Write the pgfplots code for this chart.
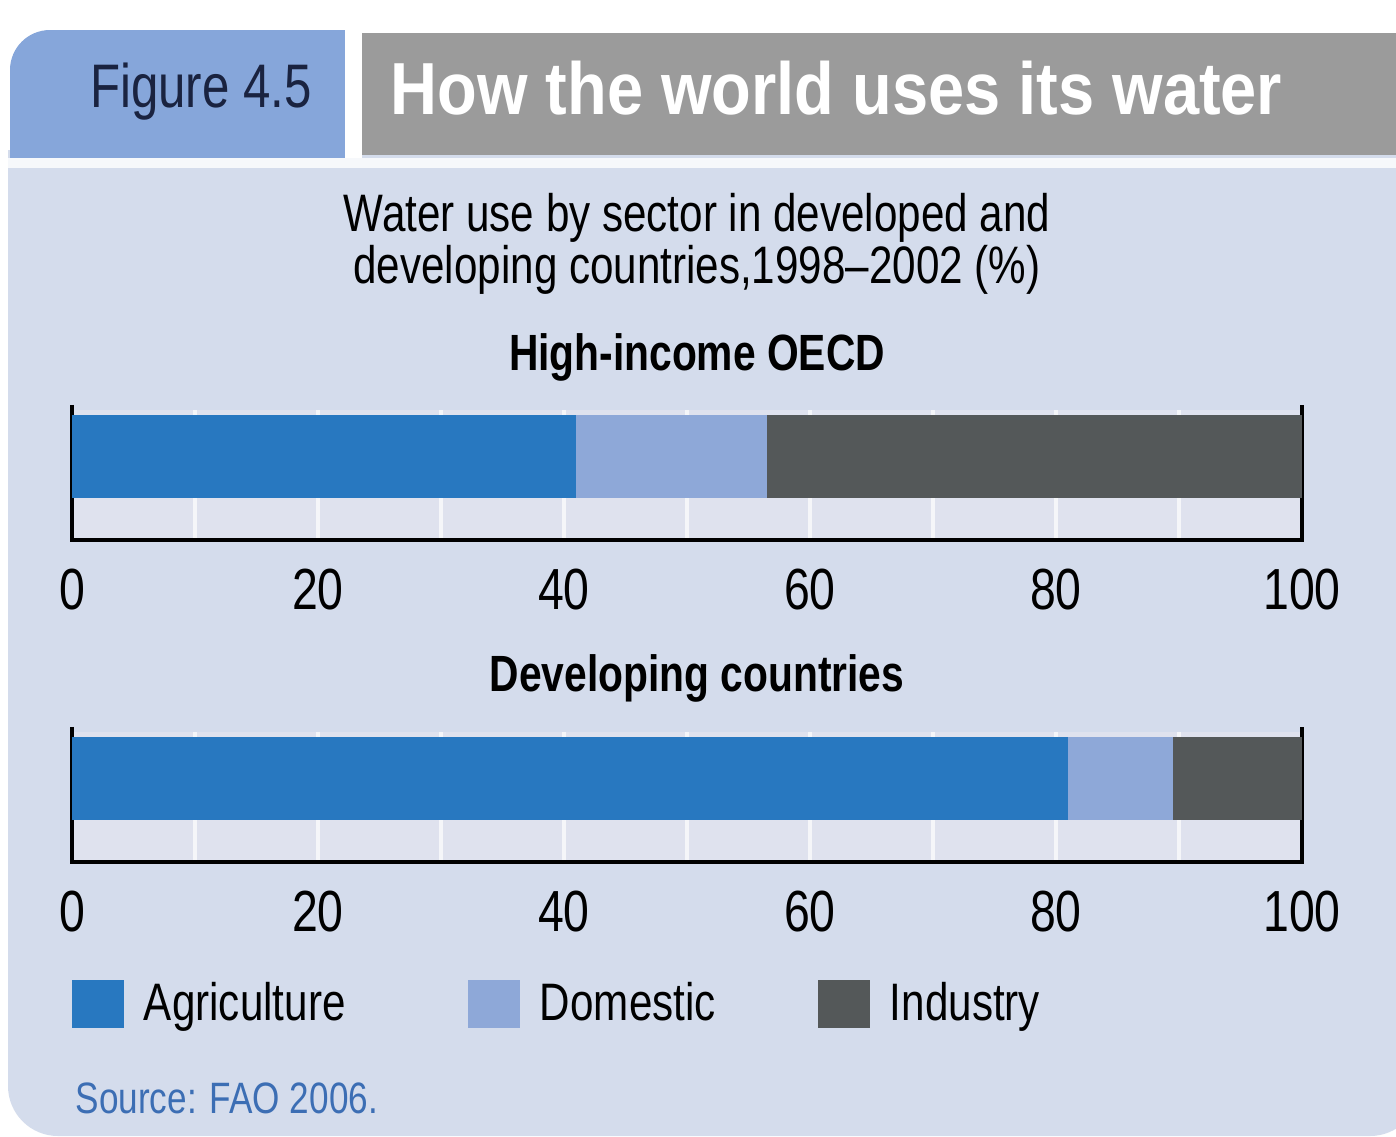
\documentclass[border=0pt]{standalone}
\usepackage{fontspec}
\setmainfont{Liberation Sans}[FakeStretch=0.8]
\newfontfamily\titlefont{Liberation Sans}[FakeStretch=0.88]
\usepackage{pgfplots}
\pgfplotsset{compat=1.18}
\definecolor{bg}{HTML}{D4DCEC}
\definecolor{agri}{HTML}{2878C0}
\definecolor{dom}{HTML}{8EA8D8}
\definecolor{ind}{HTML}{545859}
\definecolor{tabblue}{HTML}{86A6DA}
\definecolor{tabgray}{HTML}{9B9B9B}
\definecolor{navy}{HTML}{1A2340}
\definecolor{src}{HTML}{3C6EB4}
\definecolor{plotbg}{HTML}{DFE2EE}
\pgfplotsset{
  mybar/.style={
    xbar stacked, scale only axis, width=123mm, height=13mm,
    xmin=0, xmax=100, ymin=0, ymax=130,
    bar width=8.3mm, ytick=\empty, xtick={0,20,...,100},
    minor x tick num=1,
    major tick length=0, minor tick length=0,
    axis line style={draw=none},
    xmajorgrids, xminorgrids,
    major grid style={white, line width=1.2pt, opacity=0.7},
    minor grid style={white, line width=1.2pt, opacity=0.7},
    /pgf/number format/assume math mode=true,
    xticklabel style={font=\fontsize{16.5}{18}\selectfont, text=black, yshift=-1.7mm},
    axis background/.style={fill=plotbg},
    clip=false,
  }
}
\begin{document}
\begin{tikzpicture}
\begin{scope}[x=0.1mm,y=-0.1mm]
  \path[use as bounding box] (0,0) rectangle (1396,1136);
  \fill[white] (0,0) rectangle (1396,1136);
  % panel
  \fill[bg, rounded corners=5mm] (8,150) rectangle (1420,1136);
  \fill[bg] (8,150) rectangle (1396,200);
  % tabs
  \fill[tabblue, rounded corners=4mm] (10,30) -- (345,30) -- (345,160) -- (10,160) -- cycle;
  \fill[tabblue] (200,30) rectangle (345,160);
  \fill[tabblue] (10,100) rectangle (345,160);
  \fill[white] (345,28) rectangle (362,165);
  \fill[tabgray] (362,33) rectangle (1396,155);
  \fill[white!80!bg] (8,158) rectangle (1396,168);
  \node[text=navy, font=\fontsize{17.5}{20}\selectfont] at (201,92) {Figure 4.5};
  \node[anchor=west, inner sep=0pt, text=white, font=\titlefont\bfseries\fontsize{21}{22}\selectfont] at (390,88) {How the world uses its water};
  % subtitle
  \node[align=center, font=\fontsize{15}{13.8}\selectfont] at (697,244)
    {Water use by sector in developed and\\developing countries,1998--2002 (\%)};
  \node[font=\bfseries\fontsize{14.5}{16}\selectfont] at (697,357) {High-income OECD};
  \node[font=\bfseries\fontsize{14.5}{16}\selectfont] at (697,678) {Developing countries};
  \node[anchor=west, inner sep=0pt, text=src, font=\fontsize{12.5}{14}\selectfont] at (75,1098) {Source: FAO 2006.};
  \coordinate (A1) at (72,540);
  \coordinate (A2) at (72,862);
\end{scope}

\begin{axis}[mybar, at={(A1)}, anchor=south west]
  \addplot[fill=agri, draw=none] coordinates {(41,83.5)};
  \addplot[fill=dom, draw=none] coordinates {(15.5,83.5)};
  \addplot[fill=ind, draw=none] coordinates {(43.5,83.5)};
  \draw[black, line width=1.1pt] (rel axis cs:0,1.04) -- (rel axis cs:0,0) -- (rel axis cs:1,0) -- (rel axis cs:1,1.04);
\end{axis}

\begin{axis}[mybar, at={(A2)}, anchor=south west,
  legend columns=3,
  legend style={at={(0,-0.905)}, anchor=north west, draw=none, fill=none,
    inner sep=0pt, outer sep=0pt,
    nodes={inner sep=0pt, outer sep=0pt, font=\fontsize{15}{16}\selectfont},
    /tikz/every odd column/.append style={column sep=2mm}},
  legend image code/.code={\fill[#1] (0mm,-2.4mm) rectangle (5.2mm,2.4mm);},
  ]
  \addplot[fill=agri, draw=none] coordinates {(81,83.5)};
  \addplot[fill=dom, draw=none] coordinates {(8.5,83.5)};
  \addplot[fill=ind, draw=none] coordinates {(10.5,83.5)};
  \legend{\makebox[32.4mm][l]{Agriculture},\makebox[27.8mm][l]{Domestic},Industry}
  \draw[black, line width=1.1pt] (rel axis cs:0,1.04) -- (rel axis cs:0,0) -- (rel axis cs:1,0) -- (rel axis cs:1,1.04);
\end{axis}
\end{tikzpicture}
\end{document}
